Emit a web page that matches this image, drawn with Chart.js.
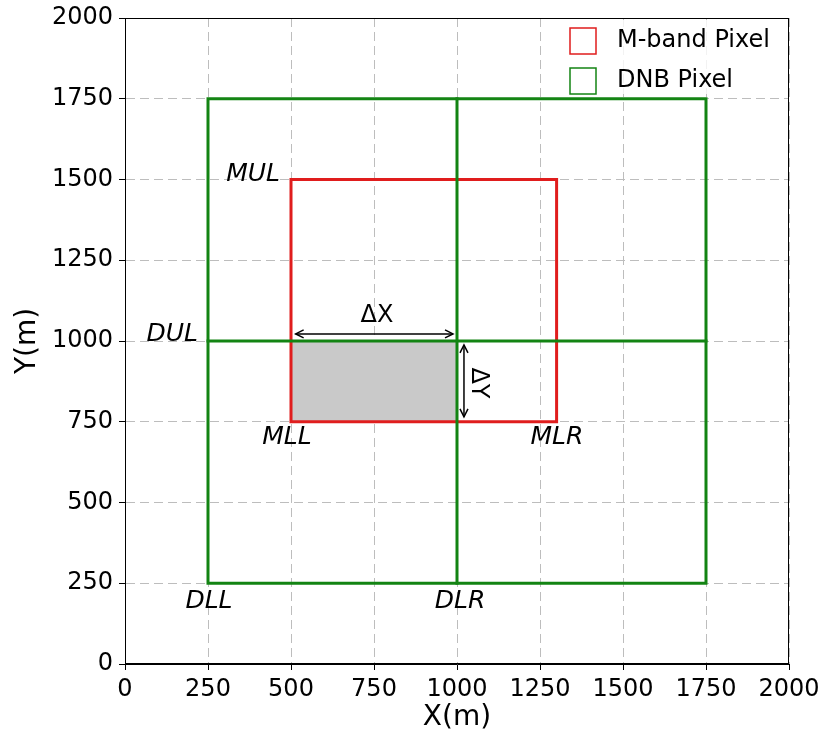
<!DOCTYPE html>
<html>
<head>
<meta charset="utf-8">
<script src="https://cdn.jsdelivr.net/npm/chart.js@4/dist/chart.umd.min.js"></script>
<style>
  html, body { margin: 0; padding: 0; background: #fff; }
  #wrap { width: 822px; height: 738px; }
</style>
</head>
<body>
<div id="wrap"><canvas id="c" width="822" height="738"></canvas></div>
<script>
// pixel outlines (metres)
const mBandX = [500, 1300, 1300, 500, 500];
const mBandY = [750, 750, 1500, 1500, 750];
const dnbBoxX = [250, 1750, 1750, 250, 250];
const dnbBoxY = [250, 250, 1750, 1750, 250];
const dnbVertX = [1000, 1000];
const dnbVertY = [250, 1750];
const dnbHorX = [250, 1750];
const dnbHorY = [1000, 1000];
const overlapX = [500, 1000, 1000, 500, 500];
const overlapY = [750, 750, 1000, 1000, 750];

const tickValues = [0, 250, 500, 750, 1000, 1250, 1500, 1750, 2000];

// corner labels and delta arrows
const cornerLabels = [
  { text: 'MUL', x: 386, y: 1517 },
  { text: 'DUL', x: 142, y: 1019 },
  { text: 'MLL', x: 488, y: 700 },
  { text: 'MLR', x: 1301, y: 700 },
  { text: 'DLL', x: 253, y: 195 },
  { text: 'DLR', x: 1009, y: 195 }
];
const arrowDX = { x0: 514, x1: 988, y: 1022, label: 'ΔX', lx: 759, ly: 1077 };
const arrowDY = { x: 1021, y0: 988, y1: 765, label: 'ΔY', lx: 1063, ly: 870 };

const RED = '#e01d1d';
const GREEN = '#138413';
const FONT = "'DejaVu Sans', sans-serif";

const pts = (xs, ys) => xs.map((x, i) => ({ x: x, y: ys[i] }));

function outline(label, xs, ys, color) {
  return {
    label: label,
    data: pts(xs, ys),
    showLine: true,
    borderColor: color,
    borderWidth: 3,
    borderCapStyle: 'square',
    borderJoinStyle: 'miter',
    pointRadius: 0,
    fill: false
  };
}

function arrowHead(ctx, x, y, dx, dy) {
  const s = 8;
  const px = -dy, py = dx;
  ctx.beginPath();
  ctx.moveTo(x - dx * s + px * s * 0.5, y - dy * s + py * s * 0.5);
  ctx.lineTo(x, y);
  ctx.lineTo(x - dx * s - px * s * 0.5, y - dy * s - py * s * 0.5);
  ctx.stroke();
}

const extras = {
  id: 'extras',
  afterDatasetsDraw(chart) {
    const ctx = chart.ctx;
    const xs = chart.scales.x, ys = chart.scales.y;
    const a = chart.chartArea;
    ctx.save();

    // frame on all four sides
    ctx.strokeStyle = '#000';
    ctx.lineWidth = 1;
    ctx.strokeRect(a.left + 0.5, a.top + 0.5, a.right - a.left - 1, a.bottom - a.top - 1);

    // corner labels
    ctx.fillStyle = '#000';
    ctx.font = 'italic 25px ' + FONT;
    ctx.textAlign = 'center';
    ctx.textBaseline = 'middle';
    cornerLabels.forEach(l => {
      ctx.fillText(l.text, xs.getPixelForValue(l.x), ys.getPixelForValue(l.y));
    });

    // arrows
    ctx.strokeStyle = '#000';
    ctx.lineWidth = 1.5;
    let x0 = xs.getPixelForValue(arrowDX.x0), x1 = xs.getPixelForValue(arrowDX.x1);
    let yy = ys.getPixelForValue(arrowDX.y);
    ctx.beginPath(); ctx.moveTo(x0, yy); ctx.lineTo(x1, yy); ctx.stroke();
    arrowHead(ctx, x1, yy, 1, 0);
    arrowHead(ctx, x0, yy, -1, 0);

    let xx = xs.getPixelForValue(arrowDY.x);
    let y0 = ys.getPixelForValue(arrowDY.y0), y1 = ys.getPixelForValue(arrowDY.y1);
    ctx.beginPath(); ctx.moveTo(xx, y0); ctx.lineTo(xx, y1); ctx.stroke();
    arrowHead(ctx, xx, y0, 0, -1);
    arrowHead(ctx, xx, y1, 0, 1);

    ctx.font = '24px ' + FONT;
    ctx.fillText(arrowDX.label, xs.getPixelForValue(arrowDX.lx), ys.getPixelForValue(arrowDX.ly));
    ctx.save();
    ctx.translate(xs.getPixelForValue(arrowDY.lx), ys.getPixelForValue(arrowDY.ly));
    ctx.rotate(Math.PI / 2);
    ctx.fillText(arrowDY.label, 0, 0);
    ctx.restore();

    // legend
    const lx = a.right - 234, ly = a.top + 2;
    ctx.fillStyle = 'rgba(255,255,255,0.8)';
    ctx.fillRect(lx, ly, 230, 74);
    const items = [
      { text: chart.data.datasets[1].label, color: RED },
      { text: chart.data.datasets[0].label, color: GREEN }
    ];
    ctx.font = '24px ' + FONT;
    ctx.textAlign = 'left';
    items.forEach((it, i) => {
      const cy = a.top + 23 + i * 40;
      ctx.fillStyle = '#fff';
      ctx.fillRect(a.right - 219, cy - 13, 26, 26);
      ctx.strokeStyle = it.color;
      ctx.lineWidth = 1.5;
      ctx.strokeRect(a.right - 219, cy - 13, 26, 26);
      ctx.fillStyle = '#000';
      ctx.fillText(it.text, a.right - 172, cy);
    });
    ctx.restore();
  }
};

const axisCommon = {
  type: 'linear',
  min: 0,
  max: 2000,
  grid: {
    color: '#bdbdbd',
    lineWidth: 1,
    tickColor: '#000',
    tickLength: 6,
    tickBorderDash: []
  },
  border: { display: true, color: '#000', width: 1, dash: [9, 5] },
  ticks: {
    stepSize: 250,
    autoSkip: false,
    color: '#000',
    padding: 5,
    font: { family: FONT, size: 24 }
  }
};

new Chart(document.getElementById('c'), {
  type: 'scatter',
  data: {
    datasets: [
      outline('DNB Pixel', dnbBoxX, dnbBoxY, GREEN),
      outline('M-band Pixel', mBandX, mBandY, RED),
      outline('DNB cross', dnbVertX, dnbVertY, GREEN),
      outline('DNB cross', dnbHorX, dnbHorY, GREEN),
      {
        label: 'overlap',
        data: pts(overlapX, overlapY),
        showLine: true,
        borderWidth: 0,
        borderColor: 'rgba(0,0,0,0)',
        backgroundColor: '#c9c9c9',
        pointRadius: 0,
        fill: 'shape'
      }
    ].map((d, i) => Object.assign({ order: i < 4 ? (i === 1 ? 2 : 1) : 10 }, d))
  },
  options: {
    responsive: false,
    animation: false,
    layout: { padding: { top: 18, right: 33, left: 0, bottom: 0 } },
    plugins: { legend: { display: false }, tooltip: { enabled: false } },
    scales: {
      x: Object.assign({}, axisCommon, {
        position: 'bottom',
        ticks: Object.assign({}, axisCommon.ticks, {
          callback: v => tickValues.includes(v) ? String(v) : null
        }),
        title: { display: true, text: 'X(m)', color: '#000', padding: { top: 0, bottom: 3 }, font: { family: FONT, size: 28 } },
        afterFit: s => { s.height = 74; s.paddingLeft = 0; s.paddingRight = 0; }
      }),
      y: Object.assign({}, axisCommon, {
        position: 'left',
        ticks: Object.assign({}, axisCommon.ticks, {
          padding: 6,
          callback: v => tickValues.includes(v) ? String(v) : null
        }),
        title: { display: true, text: 'Y(m)', color: '#000', padding: { top: 11, bottom: 0 }, font: { family: FONT, size: 28 } },
        afterFit: s => { s.width = 125; s.paddingTop = 0; s.paddingBottom = 0; }
      })
    }
  },
  plugins: [extras]
});
</script>
</body>
</html>
